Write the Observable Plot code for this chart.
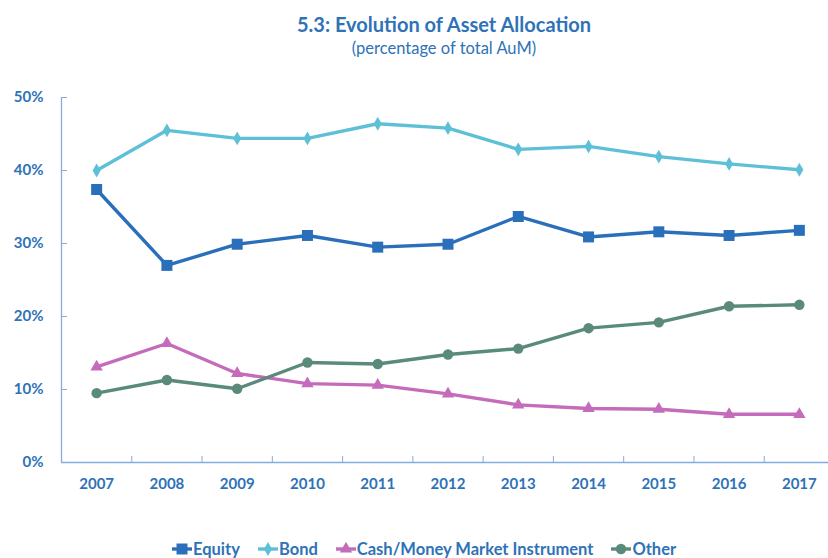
<!DOCTYPE html>
<html>
<head>
<meta charset="utf-8">
<script src="https://cdn.jsdelivr.net/npm/d3@7"></script>
<script src="https://cdn.jsdelivr.net/npm/@observablehq/plot@0.6"></script>
<style>
  html, body { margin: 0; padding: 0; background: #fff; }
  #wrap { position: relative; width: 828px; height: 558px; overflow: hidden; font-family: Lato, "Open Sans", sans-serif; }
  #title { position: absolute; left: 0; width: 888px; top: 12px; text-align: center; font-weight: bold; font-size: 20px; color: #2E72B8; }
  #subtitle { position: absolute; left: 0; width: 888px; top: 38px; text-align: center; font-size: 16.5px; color: #2E72B8; }
  #legend { position: absolute; left: 172px; top: 539px; display: flex; align-items: center; font-weight: bold; font-size: 16.5px; color: #2E72B8; white-space: nowrap; }
  #legend .item { display: flex; align-items: center; margin-right: 18px; }
  #legend svg { margin-right: 1px; }
  #chart { position: absolute; left: 0; top: 0; }
</style>
</head>
<body>
<div id="wrap">
  <div id="chart"></div>
  <div id="title">5.3: Evolution of Asset Allocation</div>
  <div id="subtitle">(percentage of total AuM)</div>
  <div id="legend"></div>
</div>
<script>
// ---- data ----
const years = [2007, 2008, 2009, 2010, 2011, 2012, 2013, 2014, 2015, 2016, 2017];
const seriesNames = ["Equity", "Bond", "Cash/Money Market Instrument", "Other"];
const equity = [37.4, 27.0, 29.9, 31.1, 29.5, 29.9, 33.7, 30.9, 31.6, 31.1, 31.8];
const bond   = [40.0, 45.5, 44.4, 44.4, 46.4, 45.8, 42.9, 43.3, 41.9, 40.9, 40.1];
const cash   = [13.1, 16.3, 12.2, 10.8, 10.6, 9.4, 7.9, 7.4, 7.3, 6.6, 6.6];
const other  = [9.5, 11.3, 10.1, 13.7, 13.5, 14.8, 15.6, 18.4, 19.2, 21.4, 21.6];
const yTicks = [0, 10, 20, 30, 40, 50];

// ---- styles ----
const colors = ["#2A6FBA", "#5EC0D6", "#C46CBB", "#5A8A7B"];
const symbols = ["square", "diamond", "triangle", "circle"];
const radii = [6.2, 4.2, 4.6, 5.2];
const axisColor = "#86ACDD";
const textColor = "#2E72B8";

const values = [equity, bond, cash, other];
const data = [];
seriesNames.forEach((s, i) => years.forEach((y, j) => data.push({series: s, year: y, value: values[i][j], idx: i})));
const boundaries = years.slice(1).map(y => y - 0.5);
const xStart = years[0] - 0.5, xEnd = years[years.length - 1] + 0.5;

const marks = [
  Plot.ruleX([xStart], {stroke: axisColor, strokeWidth: 1.3}),
  Plot.ruleY([0], {stroke: axisColor, strokeWidth: 1.3}),
  Plot.axisY({ticks: yTicks, label: null, tickSize: 0, tickPadding: 18, tickFormat: d => d + "%", fontWeight: "bold", fontSize: 15, fill: textColor}),
  Plot.axisY({ticks: yTicks, label: null, tickSize: -6, tickFormat: () => "", stroke: axisColor}),
  Plot.axisX({ticks: years, label: null, tickSize: 0, tickPadding: 16, tickFormat: d => String(d), fontWeight: "bold", fontSize: 15, fill: textColor}),
  Plot.axisX({ticks: boundaries, label: null, tickSize: -6, tickFormat: () => "", stroke: axisColor})
];
seriesNames.forEach((s, i) => {
  const d = data.filter(r => r.series === s);
  marks.push(Plot.line(d, {x: "year", y: "value", stroke: colors[i], strokeWidth: 3.4}));
  marks.push(Plot.dot(d, {x: "year", y: "value", fill: colors[i], symbol: symbols[i], r: radii[i], stroke: "none"}));
});

const chart = Plot.plot({
  width: 828,
  height: 558,
  marginTop: 97,
  marginBottom: 96,
  marginLeft: 61,
  marginRight: 0,
  style: {fontFamily: "Lato, 'Open Sans', sans-serif", background: "transparent"},
  x: {type: "linear", domain: [xStart, xEnd], range: [61, 834], axis: null},
  y: {domain: [0, 50], axis: null},
  marks
});
document.getElementById("chart").appendChild(chart);

// ---- legend ----
const legend = document.getElementById("legend");
seriesNames.forEach((s, i) => {
  const item = document.createElement("div");
  item.className = "item";
  const sym = d3.symbol(d3["symbol" + symbols[i][0].toUpperCase() + symbols[i].slice(1)], Math.PI * radii[i] * radii[i])();
  item.innerHTML = `<svg width="20" height="14"><line x1="0" x2="20" y1="7" y2="7" stroke="${colors[i]}" stroke-width="3.4"/><path d="${sym}" transform="translate(10,7)" fill="${colors[i]}"/></svg><span>${s}</span>`;
  legend.appendChild(item);
});
</script>
</body>
</html>
